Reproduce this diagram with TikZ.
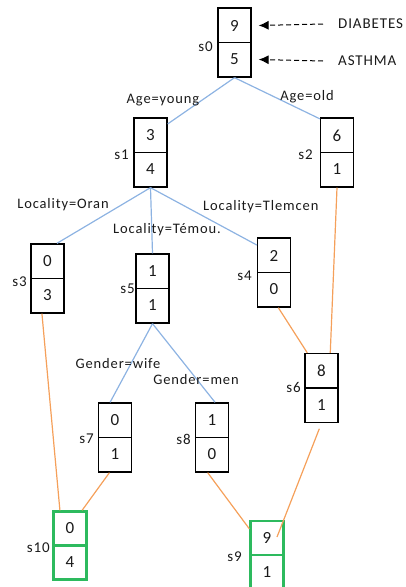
\documentclass[tikz,border=0pt]{standalone}
\usepackage{fontspec}
\setmainfont{Carlito}
\newfontfamily\spacedfont[LetterSpace=6]{Carlito}
\usetikzlibrary{calc,arrows.meta}

\definecolor{edgeblue}{HTML}{8DB3E2}
\definecolor{edgeorange}{HTML}{F5A05A}
\definecolor{leafgreen}{HTML}{2DBA5E}
\definecolor{inkgray}{HTML}{1A1A1A}

\tikzset{
  cellbox/.style={draw=black, line width=1.3pt, minimum width=33pt, minimum height=69pt, inner sep=0pt,
    path picture={\draw[black, line width=1.3pt] (path picture bounding box.west) -- (path picture bounding box.east);}},
  leafbox/.style={draw=leafgreen, line width=2.4pt, minimum width=33pt, minimum height=68pt, inner sep=0pt,
    path picture={\draw[leafgreen, line width=2.4pt] (path picture bounding box.west) -- (path picture bounding box.east);}},
  digit/.style={font=\fontsize{17}{17}\selectfont, text=inkgray, inner sep=0pt},
  tag/.style={font=\spacedfont\fontsize{15}{15}\selectfont, text=inkgray, anchor=east, inner sep=0pt},
  cond/.style={font=\spacedfont\fontsize{14.5}{15}\selectfont, text=inkgray, inner sep=0pt},
  disease/.style={font=\spacedfont\fontsize{15}{15}\selectfont, text=inkgray, anchor=west, inner sep=0pt},
  split/.style={edgeblue, line width=1.2pt},
  merge/.style={edgeorange, line width=1.2pt},
  pointer/.style={dashed, dash pattern=on 5pt off 3pt, line width=1pt, -{Latex[length=10pt,width=9pt]}},
}

% a state box: name, x, y, upper count, lower count, box style
\newcommand\statecell[6]{%
  \node[#6] (#1) at (#2,#3) {};
  \node[digit] (#1u) at ($(#1.center)+(0,-17)$) {#4};
  \node[digit] (#1d) at ($(#1.center)+(0,17)$) {#5};
}

\begin{document}
\begin{tikzpicture}[x=1pt,y=-1pt]
\useasboundingbox (0,0) rectangle (406,587);

% state boxes
\statecell{s0}{234.5}{42.5}{9}{5}{cellbox}
\statecell{s1}{150.5}{152.5}{3}{4}{cellbox}
\statecell{s2}{337}{152.5}{6}{1}{cellbox}
\statecell{s3}{47.5}{278.5}{0}{3}{cellbox}
\statecell{s5}{152.5}{288.5}{1}{1}{cellbox}
\statecell{s4}{274}{272.5}{2}{0}{cellbox}
\statecell{s6}{321.5}{388}{8}{1}{cellbox}
\statecell{s7}{115}{437.5}{0}{1}{cellbox}
\statecell{s8}{212}{437.5}{1}{0}{cellbox}
\statecell{s10}{70}{545.5}{0}{4}{leafbox}
\statecell{s9}{267}{555}{9}{1}{leafbox}

% state names
\node[tag] (t0) at (213,47) {s0};
\node[tag] (t1) at (129,155) {s1};
\node[tag] (t2) at (313,155) {s2};
\node[tag] (t3) at (27,282) {s3};
\node[tag] (t5) at (135,289) {s5};
\node[tag] (t4) at (252,276) {s4};
\node[tag] (t6) at (301,387) {s6};
\node[tag] (t7) at (94,439) {s7};
\node[tag] (t8) at (191,439) {s8};
\node[tag] (t10) at (50,548) {s10};
\node[tag] (t9) at (242,557) {s9};

% disease legend
\node[disease] (diab) at (338,24) {DIABETES};
\node[disease] (asth) at (338,61) {ASTHMA};
\draw[pointer] ([xshift=-15pt]diab.west) -- ([xshift=7pt]s0.east |- s0u);
\draw[pointer] ([xshift=-15pt]asth.west) -- ([xshift=7pt]s0.east |- s0d);

% splitting edges
\draw[split] (s0.south) -- (s1.59);
\draw[split] (s0.south) -- (s2.117);
\draw[split] (s1.south) -- (s3.75);
\draw[split] (s1.south) -- (s5.north);
\draw[split] (s1.south) -- (s4.122);
\draw[split] (s5.south) -- (s7.98);
\draw[split] (s5.south) -- (s8.85);

% merging edges
\draw[merge] (s2.south) -- (s6.76);
\draw[merge] (s4.277) -- (s6.112);
\draw[merge, shorten <=6pt] (s6.south) -- ($(s9.center)+(10,-18)$);
\draw[merge] (s3.261) -- (s10.106);
\draw[merge] (s7.261) -- (s10.71);
\draw[merge] (s8.263) -- (s9.124);

% split conditions
\node[cond] (c1) at (163,100) {Age=young};
\node[cond] (c2) at (307,97) {Age=old};
\node[cond] (c3) at (63,205) {Locality=Oran};
\node[cond] (c4) at (167,230) {Locality=Témou.};
\node[cond, anchor=west] (c5) at (203,207) {Locality=Tlemcen};
\node[cond] (c6) at (118,364) {Gender=wife};
\node[cond] (c7) at (196,380) {Gender=men};
\end{tikzpicture}
\end{document}
